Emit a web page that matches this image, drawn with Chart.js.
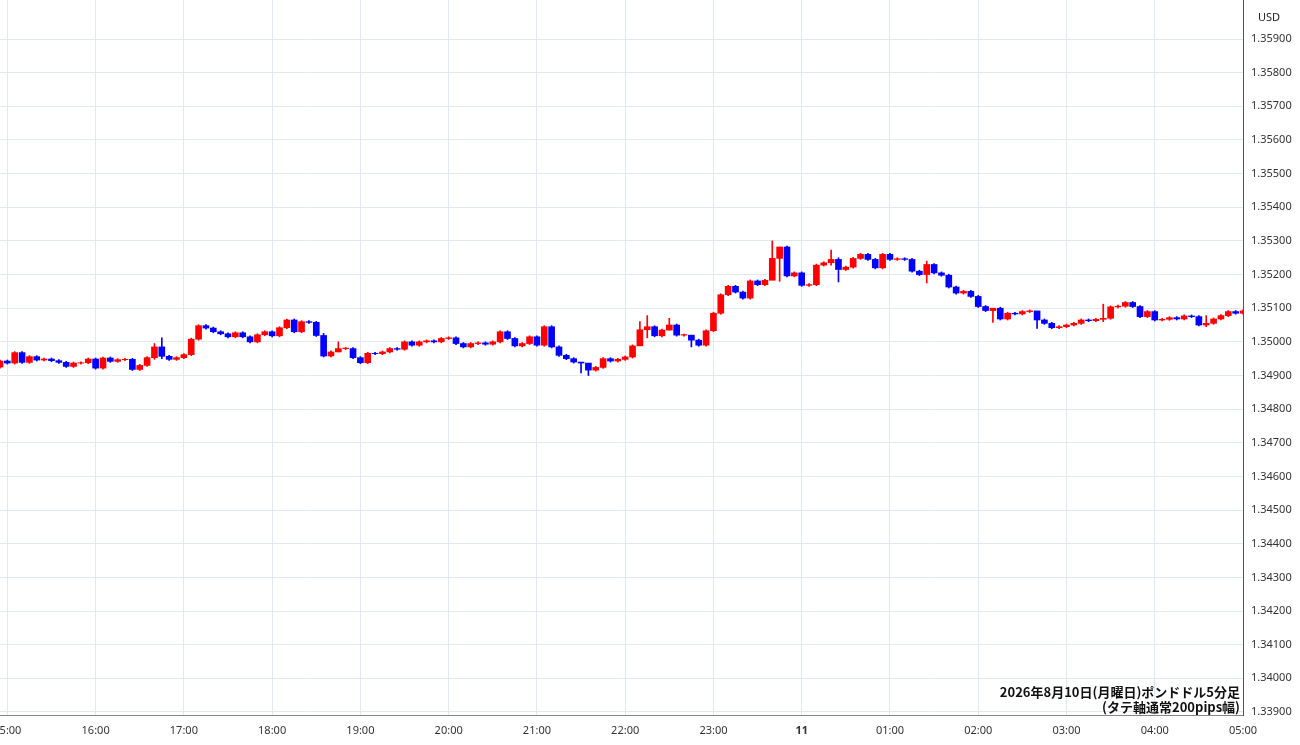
<!DOCTYPE html>
<html lang="ja">
<head>
<meta charset="UTF-8">
<title>ポンドドル5分足</title>
<script src="https://cdn.jsdelivr.net/npm/chart.js"></script>
<style>
  body { margin: 0; background: #fff; }
  #wrap { position: relative; width: 1300px; height: 745px; }
  #usd { position: absolute; left: 1258px; top: 9px; font: 11px "Noto Sans", sans-serif; color: #222; }
</style>
</head>
<body>
<div id="wrap">
  <canvas id="chart" width="1300" height="745"></canvas>
  <div id="usd">USD</div>
</div>
<script>
// 5-minute candles from 14:55 to 05:00
const firstOpen = 1.34925;
const closes = [
  1.34943, 1.34937, 1.34968, 1.34939, 1.34956, 1.34946, 1.34949, 1.34944, 1.34939, 1.34927, 1.34937, 1.34938,
  1.34949, 1.34922, 1.34952, 1.34942, 1.34947, 1.34948, 1.34918, 1.34930, 1.34953, 1.34985, 1.34957, 1.34948,
  1.34953, 1.34962, 1.35008, 1.35048, 1.35041, 1.35030, 1.35024, 1.35015, 1.35027, 1.35015, 1.35000, 1.35021,
  1.35030, 1.35018, 1.35042, 1.35065, 1.35030, 1.35060, 1.35058, 1.35019,
  1.34958, 1.34970, 1.34980, 1.34980, 1.34953, 1.34938, 1.34966, 1.34965, 1.34970, 1.34980, 1.34978, 1.35000,
  1.34990, 1.35000, 1.35003, 1.35000, 1.35010, 1.35012, 1.34995, 1.34985, 1.34995, 1.34997, 1.34993, 1.35000,
  1.35030, 1.35010, 1.34988, 1.34995, 1.35015, 1.34990, 1.35045, 1.34985, 1.34960, 1.34950, 1.34940, 1.34937,
  1.34916, 1.34924, 1.34950, 1.34943, 1.34948, 1.34955, 1.34988, 1.35036,
  1.35045, 1.35018, 1.35035, 1.35050, 1.35020, 1.35020, 1.35005, 1.34990, 1.35033, 1.35085, 1.35140, 1.35165,
  1.35148, 1.35130, 1.35181, 1.35170, 1.35183, 1.35248, 1.35282, 1.35196, 1.35205, 1.35168, 1.35170, 1.35228,
  1.35235, 1.35245, 1.35215, 1.35222, 1.35248, 1.35260, 1.35245, 1.35220, 1.35260, 1.35245, 1.35247, 1.35245,
  1.35210, 1.35200, 1.35230, 1.35205, 1.35198,
  1.35163, 1.35145, 1.35150, 1.35135, 1.35105, 1.35093, 1.35100, 1.35068, 1.35085, 1.35083, 1.35090, 1.35092,
  1.35065, 1.35055, 1.35042, 1.35045, 1.35050, 1.35055, 1.35065, 1.35063, 1.35067, 1.35070, 1.35104, 1.35106,
  1.35117, 1.35105, 1.35075, 1.35090, 1.35065, 1.35067, 1.35072, 1.35068, 1.35077, 1.35075, 1.35050, 1.35055,
  1.35068, 1.35078, 1.35090, 1.35085, 1.35092
];
// notable wicks: index -> [high, low]
const wickExtremes = {
  21: [1.34995, 1.34948], 22: [1.35012, 1.34950], 44: [1.35025, 1.34955], 46: [1.35000, 1.34970],
  79: [1.34937, 1.34908], 80: [1.34926, 1.34900], 87: [1.35060, 1.35010], 88: [1.35078, 1.35012],
  91: [1.35070, 1.35035], 94: [1.35010, 1.34985], 105: [1.35300, 1.35245], 106: [1.35282, 1.35180],
  113: [1.35273, 1.35228], 114: [1.35250, 1.35178], 126: [1.35240, 1.35175], 135: [1.35100, 1.35058],
  141: [1.35068, 1.35040], 150: [1.35112, 1.35060], 164: [1.35078, 1.35045]
};
const yTicksStep = 0.001;
const titleLines = ['2026年8月10日(月曜日)ポンドドル5分足', '(タテ軸通常200pips幅)'];

const labels = [], bodies = [], wicks = [], colors = [];
let prev = firstOpen;
closes.forEach((c, i) => {
  const t = 14 * 60 + 55 + i * 5;
  const h = Math.floor(t / 60) % 24, m = t % 60;
  labels.push(String(h).padStart(2, '0') + ':' + String(m).padStart(2, '0'));
  const o = prev;
  const hi = Math.max(o, c) + 0.00003, lo = Math.min(o, c) - 0.00003;
  const w = wickExtremes[i] || [hi, lo];
  bodies.push([o, c === o ? c + 0.000015 : c]);
  wicks.push([w[1], w[0]]);
  colors.push(c >= o ? '#ff0000' : '#0000ff');
  prev = c;
});

const noteText = {
  id: 'noteText',
  afterDraw(chart) {
    const ctx = chart.ctx, a = chart.chartArea;
    ctx.save();
    ctx.font = 'bold 13px "Noto Sans CJK JP", sans-serif';
    ctx.fillStyle = '#111';
    ctx.textAlign = 'right';
    ctx.textBaseline = 'middle';
    ctx.fillText(titleLines[0], a.right - 3, 692);
    ctx.fillText(titleLines[1], a.right - 3, 707);
    ctx.restore();
  }
};

new Chart(document.getElementById('chart'), {
  type: 'bar',
  data: {
    labels,
    datasets: [
      { data: wicks, backgroundColor: colors, barThickness: 1, grouped: false, order: 2 },
      { data: bodies, backgroundColor: colors, barThickness: 6, grouped: false, order: 1 }
    ]
  },
  options: {
    responsive: false,
    animation: false,
    layout: { padding: 0 },
    plugins: { legend: { display: false }, tooltip: { enabled: false } },
    scales: {
      x: {
        offset: false,
        grid: { offset: false, color: '#e3e9f0', drawTicks: false },
        border: { color: '#888' },
        afterFit: s => { s.height = 30; s.paddingLeft = 0; s.paddingRight = 0; },
        ticks: {
          autoSkip: false, maxRotation: 0, padding: 9, color: '#333',
          font: ctx => ({ size: 11, family: '"Noto Sans", sans-serif', weight: ctx.tick && ctx.tick.label === '11' ? 'bold' : 'normal' }),
          callback: (v, i) => {
            const l = labels[i];
            if (!l.endsWith(':00')) return null;
            return l === '00:00' ? '11' : l;
          }
        }
      },
      y: {
        position: 'right',
        min: 1.33891, max: 1.36016,
        grid: { color: '#e3e9f0', drawTicks: false },
        border: { color: '#555' },
        afterFit: s => { s.width = 57; s.paddingTop = 0; s.paddingBottom = 0; },
        afterBuildTicks: s => {
          const t = [];
          for (let v = 1.339; v <= 1.3595; v += yTicksStep) t.push({ value: Math.round(v * 1000) / 1000 });
          s.ticks = t;
        },
        ticks: {
          color: '#333', padding: 8,
          font: { size: 11, family: '"Noto Sans", sans-serif' },
          callback: v => v.toFixed(5)
        }
      }
    }
  },
  plugins: [noteText]
});
</script>
</body>
</html>
